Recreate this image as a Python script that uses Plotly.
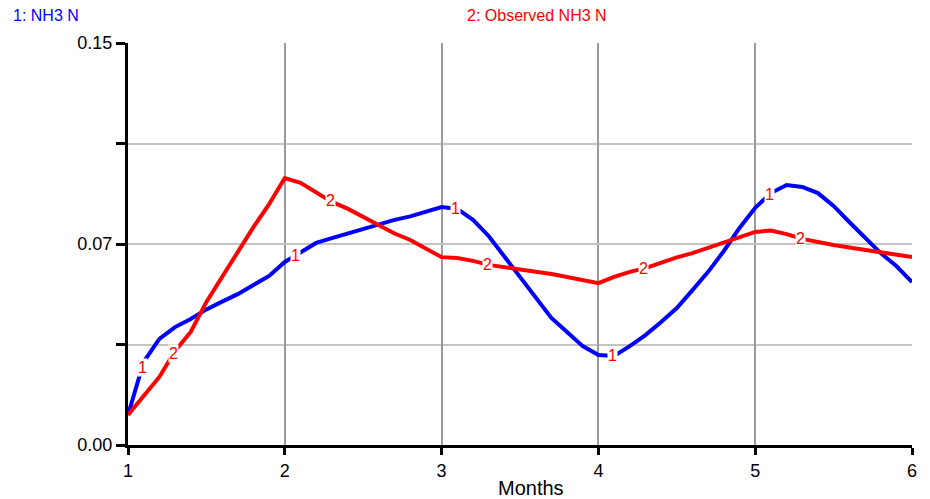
import numpy as np
import plotly.graph_objects as go

# ---- data ----
months = [1.0, 1.05, 1.1, 1.2, 1.3, 1.4, 1.5, 1.6, 1.7, 1.8, 1.9,
          2.0, 2.1, 2.2, 2.3, 2.4, 2.5, 2.6, 2.7, 2.8, 2.9,
          3.0, 3.1, 3.2, 3.3, 3.4, 3.5, 3.6, 3.7, 3.8, 3.9,
          4.0, 4.1, 4.2, 4.3, 4.4, 4.5, 4.6, 4.7, 4.8, 4.9,
          5.0, 5.1, 5.2, 5.3, 5.4, 5.5, 5.6, 5.7, 5.8, 5.9, 6.0]

nh3_n = [0.0112, 0.0205, 0.0310, 0.0396, 0.0440, 0.0470, 0.0506, 0.0535, 0.0563, 0.0597, 0.0631,
         0.0683, 0.0720, 0.0754, 0.0772, 0.0789, 0.0806, 0.0821, 0.0840, 0.0853, 0.0869,
         0.0888, 0.0881, 0.0840, 0.0780, 0.0705, 0.0627, 0.0552, 0.0474, 0.0422, 0.0369,
         0.0336, 0.0332, 0.0369, 0.0410, 0.0459, 0.0511, 0.0578, 0.0646, 0.0724, 0.0810,
         0.0885, 0.0940, 0.0970, 0.0963, 0.0940, 0.0892, 0.0832, 0.0776, 0.0716, 0.0668, 0.0608]

observed_nh3_n = [0.0112, 0.0148, 0.0183, 0.0254, 0.0351, 0.0422, 0.0534, 0.0627, 0.0716, 0.0813, 0.0899,
                  0.0996, 0.0978, 0.0944, 0.0907, 0.0882, 0.0851, 0.0819, 0.0789, 0.0765, 0.0733,
                  0.0701, 0.0698, 0.0687, 0.0672, 0.0664, 0.0655, 0.0646, 0.0638, 0.0627, 0.0614,
                  0.0604, 0.0627, 0.0646, 0.0660, 0.0681, 0.0700, 0.0716, 0.0735, 0.0756, 0.0776,
                  0.0795, 0.0800, 0.0787, 0.0769, 0.0756, 0.0746, 0.0737, 0.0728, 0.0720, 0.0713, 0.0701]

label_x_1 = [1.09, 2.07, 3.09, 4.09, 5.09]
label_x_2 = [1.29, 2.29, 3.29, 4.29, 5.29]

x_ticks = [1, 2, 3, 4, 5, 6]
y_tickvals = [0.0, 0.075, 0.15]
y_ticktext = ["0.00", "0.07", "0.15"]

BLUE = "#0000FF"
RED = "#FF0000"
FONT = "Liberation Sans, Arial, sans-serif"

# plot-area geometry in pixels (used to place paper-referenced texts)
PL, PR, PT, PB = 128, 912, 43, 445
PW, PH = PR - PL, PB - PT


def px_x(px):
    return (px - PL) / PW


def px_y(py):
    return (PB - py) / PH


fig = go.Figure()
fig.add_trace(go.Scatter(x=months, y=nh3_n, mode="lines",
                         line=dict(color=BLUE, width=4), name="1: NH3 N",
                         hoverinfo="skip"))
fig.add_trace(go.Scatter(x=months, y=observed_nh3_n, mode="lines",
                         line=dict(color=RED, width=4), name="2: Observed NH3 N",
                         hoverinfo="skip"))

# line number labels (red digits with white background)
for lx in label_x_1:
    fig.add_annotation(x=lx, y=float(np.interp(lx, months, nh3_n)), text="1",
                       showarrow=False, bgcolor="white", borderpad=0,
                       font=dict(color=RED, size=16, family=FONT))
for lx in label_x_2:
    fig.add_annotation(x=lx, y=float(np.interp(lx, months, observed_nh3_n)), text="2",
                       showarrow=False, bgcolor="white", borderpad=0,
                       font=dict(color=RED, size=16, family=FONT))

# header legend texts
fig.add_annotation(xref="paper", yref="paper", x=px_x(11), y=px_y(16),
                   text="1: NH3 N", showarrow=False, xanchor="left", yanchor="middle",
                   font=dict(color=BLUE, size=16, family=FONT))
fig.add_annotation(xref="paper", yref="paper", x=px_x(465), y=px_y(16),
                   text="2: Observed NH3 N", showarrow=False, xanchor="left", yanchor="middle",
                   font=dict(color=RED, size=16, family=FONT))

# x axis title
fig.add_annotation(xref="paper", yref="paper", x=px_x(531), y=px_y(488),
                   text="Months", showarrow=False, xanchor="center", yanchor="middle",
                   font=dict(color="black", size=20, family=FONT))

fig.update_layout(
    width=930, height=499,
    margin=dict(l=PL, r=930 - PR, t=PT, b=499 - PB),
    paper_bgcolor="white", plot_bgcolor="white",
    showlegend=False,
    font=dict(family=FONT, color="black"),
)

fig.update_xaxes(range=[1, 6], tickvals=x_ticks, ticks="outside", ticklen=7, tickwidth=3,
                 tickcolor="black", showline=True, linecolor="black", linewidth=3,
                 showgrid=True, gridcolor="#9A9A9A", gridwidth=1.5, zeroline=False,
                 tickfont=dict(size=18, family=FONT, color="black"))

fig.update_yaxes(range=[0, 0.15], tickvals=y_tickvals, ticktext=y_ticktext,
                 ticks="outside", ticklen=9, tickwidth=3, tickcolor="black",
                 showline=True, linecolor="black", linewidth=3,
                 showgrid=True, gridcolor="#C4C4C4", gridwidth=2, zeroline=False,
                 tickfont=dict(size=18, family=FONT, color="black"),
                 minor=dict(tickvals=[0.0375, 0.1125], ticks="outside", ticklen=9,
                            tickwidth=3, tickcolor="black", showgrid=True,
                            gridcolor="#C4C4C4", gridwidth=2))

fig.write_html("out.html")
